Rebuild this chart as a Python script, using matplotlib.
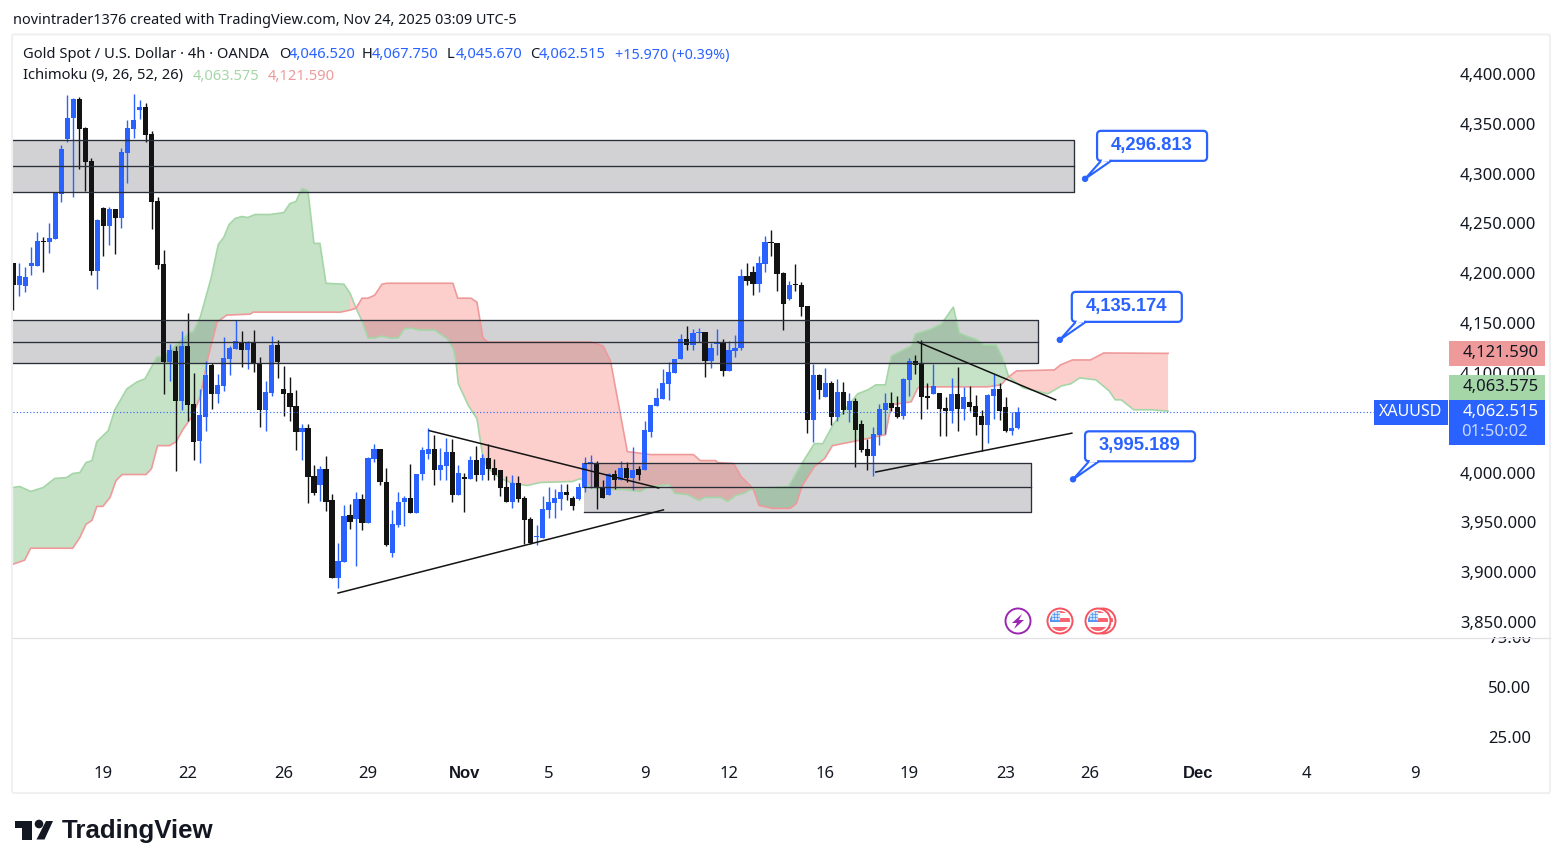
import numpy as np
import matplotlib
matplotlib.use('Agg')
import matplotlib.pyplot as plt
from matplotlib.patches import Rectangle, FancyBboxPatch, Polygon, Circle
from matplotlib.transforms import Affine2D, ScaledTranslation

plt.rcParams['font.family'] = ['Noto Sans', 'DejaVu Sans']

# 4h candles, one bar per row of ten
opens = [4210, 4188, 4187, 4207, 4207, 4232, 4231, 4234, 4280, 4335,
         4356, 4375, 4346, 4313, 4202, 4266, 4247, 4265, 4256, 4321,
         4345, 4364, 4367, 4340, 4273, 4209, 4111, 4122, 4072, 4127,
         4069, 4032, 4056, 4108, 4079, 4087, 4114, 4124, 4131, 4123,
         4131, 4110, 4063, 4080, 4128, 4084, 4080, 4067, 4041, 4045,
         3997, 3987, 4004, 3972, 3894, 3910, 3957, 3953, 3973, 3949,
         4014, 4024, 3990, 3919, 3947, 3970, 3974, 3959, 3999, 4019,
         4024, 4003, 4007, 4021, 3977, 3995, 3994, 4013, 3998, 4015,
         4005, 4003, 3985, 3970, 3989, 3974, 3953, 3935, 3934, 3962,
         3969, 3973, 3980, 3974, 3973, 3984, 4009, 4010, 3984, 3977,
         3999, 3992, 4005, 3995, 4004, 4003, 4041, 4067, 4074, 4089,
         4100, 4114, 4134, 4128, 4140, 4141, 4112, 4129, 4130, 4102,
         4122, 4125, 4197, 4201, 4189, 4209, 4231, 4230, 4200, 4174,
         4189, 4188, 4167, 4053, 4098, 4076, 4090, 4056, 4081, 4063,
         4072, 4049, 4024, 4017, 4038, 4063, 4070, 4066, 4057, 4093,
         4112, 4109, 4077, 4079, 4080, 4065, 4062, 4079, 4064, 4071,
         4067, 4057, 4048, 4077, 4084, 4066, 4042, 4046.52]
highs = [4210, 4210, 4206, 4226, 4241, 4236, 4250, 4281, 4329, 4379,
         4376, 4377, 4347, 4316, 4254, 4267, 4267, 4265, 4326, 4354,
         4380, 4374, 4371, 4343, 4277, 4223, 4129, 4127, 4142, 4160,
         4100, 4084, 4112, 4110, 4099, 4136, 4127, 4153, 4142, 4132,
         4143, 4116, 4092, 4137, 4133, 4107, 4096, 4083, 4049, 4049,
         4008, 4007, 4017, 3978, 3929, 3967, 3968, 3980, 3978, 4016,
         4029, 4024, 4005, 3962, 3980, 3976, 4009, 3999, 4026, 4045,
         4038, 4025, 4035, 4034, 4008, 4000, 4017, 4027, 4019, 4029,
         4014, 4003, 3997, 3998, 3997, 3976, 3955, 3947, 3976, 3985,
         3983, 3988, 3988, 3976, 3989, 4016, 4018, 4012, 3993, 4000,
         4003, 4012, 4011, 4026, 4007, 4052, 4068, 4085, 4104, 4111,
         4114, 4139, 4147, 4144, 4145, 4141, 4130, 4144, 4134, 4132,
         4138, 4204, 4210, 4207, 4217, 4237, 4243, 4230, 4201, 4192,
         4209, 4191, 4167, 4109, 4099, 4105, 4092, 4094, 4091, 4080,
         4075, 4053, 4034, 4046, 4069, 4080, 4081, 4077, 4095, 4115,
         4118, 4133, 4090, 4109, 4080, 4076, 4095, 4106, 4086, 4087,
         4078, 4063, 4079, 4099, 4090, 4076, 4061, 4067.75]
lows = [4163, 4177, 4181, 4198, 4207, 4201, 4220, 4234, 4272, 4332,
        4277, 4305, 4283, 4198, 4184, 4217, 4228, 4219, 4245, 4291,
        4336, 4355, 4332, 4244, 4204, 4079, 4092, 4002, 4063, 4052,
        4013, 4010, 4042, 4064, 4070, 4082, 4098, 4124, 4106, 4104,
        4101, 4046, 4042, 4077, 4095, 4057, 4052, 4023, 4013, 3969,
        3977, 3971, 3961, 3894, 3884, 3910, 3943, 3906, 3942, 3949,
        4011, 3987, 3926, 3915, 3945, 3946, 3959, 3959, 3993, 4014,
        3987, 3992, 3992, 3970, 3977, 3960, 3994, 3991, 3992, 3993,
        3993, 3976, 3970, 3964, 3970, 3928, 3928, 3927, 3934, 3954,
        3954, 3962, 3972, 3962, 3972, 3980, 3984, 3963, 3974, 3977,
        3983, 3992, 3990, 3982, 3992, 4003, 4036, 4067, 4074, 4073,
        4100, 4114, 4123, 4123, 4131, 4096, 4105, 4118, 4097, 4102,
        4116, 4123, 4188, 4178, 4181, 4201, 4217, 4182, 4143, 4173,
        4182, 4157, 4040, 4031, 4074, 4076, 4048, 4052, 4059, 4051,
        4006, 4021, 4003, 3997, 4028, 4039, 4062, 4055, 4054, 4077,
        4099, 4054, 4064, 4079, 4037, 4037, 4050, 4042, 4053, 4062,
        4038, 4022, 4030, 4054, 4053, 4041, 4038, 4045.67]
closes = [4188, 4197, 4196, 4210, 4232, 4231, 4235, 4281, 4325, 4356,
          4375, 4345, 4312, 4202, 4253, 4247, 4265, 4256, 4322, 4346,
          4354, 4367, 4339, 4272, 4208, 4111, 4123, 4072, 4127, 4068,
          4031, 4058, 4098, 4079, 4088, 4115, 4125, 4132, 4123, 4131,
          4110, 4063, 4081, 4128, 4111, 4079, 4066, 4041, 4045, 3996,
          3979, 4004, 3970, 3894, 3911, 3956, 3950, 3973, 3949, 4015,
          4024, 3990, 3927, 3948, 3970, 3974, 3959, 3999, 4023, 4024,
          4003, 4008, 4021, 3977, 4000, 3994, 4013, 3998, 4015, 4004,
          3998, 3984, 3970, 3989, 3973, 3952, 3929, 3936, 3963, 3970,
          3974, 3980, 3977, 3966, 3985, 4010, 4010, 3984, 3974, 3999,
          3992, 4005, 3995, 4003, 3998, 4043, 4068, 4075, 4090, 4101,
          4114, 4134, 4128, 4140, 4141, 4112, 4125, 4130, 4102, 4123,
          4125, 4197, 4192, 4189, 4210, 4231, 4230, 4199, 4169, 4188,
          4188, 4166, 4053, 4098, 4083, 4090, 4056, 4081, 4063, 4072,
          4043, 4023, 4017, 4039, 4064, 4070, 4065, 4056, 4094, 4112,
          4108, 4076, 4075, 4087, 4064, 4062, 4079, 4064, 4076, 4066,
          4056, 4048, 4078, 4084, 4062, 4042, 4045, 4062.515]

# ichimoku span knots (bar number, price)
span_a_x = [0, 1.1, 2.9, 5, 6.9, 8.9, 9.9, 11.1, 12.1, 13.1, 13.9, 15.8, 16.9, 18.9, 20.6, 21.9,
            23.9, 24.9, 29.4, 29.9, 30.7, 31.1, 32.9, 34.1, 35, 35.9, 36.9, 38, 39, 40.2, 42.7,
            43.9, 45, 46, 47, 48, 49, 50, 51, 52, 55, 56, 57, 58, 59, 60.1, 61.3, 62.6, 64, 65, 66,
            67.7, 70.1, 72.2, 73.2, 73.6, 74, 75.7, 77.1, 78, 78.8, 81, 83.1, 85.5, 87.6, 93, 94.3,
            96, 98.8, 101.4, 104.3, 105.4, 109, 110, 112, 114, 115, 117.6, 118.8, 120.1, 121.4, 123,
            128.9, 130.9, 133.2, 134.6, 136.4, 140.4, 142.1, 143.4, 145, 146, 149.3, 150, 152.6,
            154.3, 156.3, 157.3, 158.9, 160, 161.4, 163.4, 164.5, 165.5, 167.9, 172, 174.3, 175.8,
            177.3, 180, 182.2, 183.2, 184.2, 186.3, 189.3, 192]
span_a = [3985, 3986, 3981, 3985, 3994, 3995, 3999, 4000, 4010, 4012, 4031, 4042, 4063, 4084, 4091,
          4094, 4116, 4116, 4141, 4141, 4151, 4156, 4195, 4229, 4236, 4249, 4255, 4257, 4256, 4259,
          4259, 4260, 4261, 4270, 4272, 4285, 4283, 4230, 4230, 4190, 4189, 4180, 4165, 4152, 4135,
          4135, 4137, 4135, 4135, 4144, 4145, 4143, 4143, 4134, 4124, 4112, 4089, 4067, 4054, 4019,
          4005, 3994, 3989, 3987, 3990, 3991, 3994, 3985, 3983, 3983, 3981, 3985, 3988, 3979, 3978,
          3972, 3975, 3975, 3971, 3977, 3979, 3984, 3986, 4007, 4029, 4029, 4049, 4079, 4083, 4088,
          4088, 4117, 4127, 4139, 4144, 4149, 4166, 4140, 4136, 4134, 4128, 4128, 4115, 4096, 4085,
          4079, 4087, 4089, 4095, 4093, 4082, 4073, 4073, 4063, 4063, 4063.575]
span_b_x = [0, 1.9, 2.9, 9.9, 11.1, 12.1, 13.1, 13.9, 14.9, 16.1, 17.1, 18.1, 22.1, 23, 24, 26, 27.1,
            28.2, 29.7, 31.1, 32.4, 33.9, 35.5, 39.4, 39.9, 54.4, 56, 57, 58, 59, 60.1, 61.3, 62.1,
            73.1, 73.9, 76.1, 77.1, 78.1, 78.9, 96.1, 98.1, 99.3, 102.1, 106, 113.1, 114.2, 116.8, 117.1,
            119.8, 121, 123, 124, 126.2, 129.2, 130.2, 131.2, 133.2, 134.9, 136.2, 140.4, 145, 146,
            149.3, 150.4, 151.4, 162, 164.2, 165.5, 166.8, 173.1, 174.1, 176.1, 179.1, 181.3, 192]
span_b = [3908, 3912, 3924, 3924, 3935, 3948, 3952, 3966, 3966, 3975, 3992, 3998, 3998, 4004, 4027,
          4027, 4031, 4043, 4056, 4076, 4116, 4151, 4158, 4159, 4161, 4161, 4163, 4165, 4175, 4175,
          4178, 4189, 4190, 4190, 4175, 4175, 4171, 4135, 4131, 4131, 4127, 4112, 4021, 4018, 4018,
          4012, 4012, 4010, 4009, 3996, 3984, 3967, 3964, 3964, 3969, 3987, 4006, 4014, 4027, 4032,
          4038, 4068, 4071, 4085, 4086, 4086, 4088, 4096, 4102, 4103, 4108, 4113, 4113, 4120, 4121.59]
cloud_cross = [0, 56, 123, 165.5, 192]
cloud_green = [True, False, True, False]

# drawn zones: first bar, last bar, top, middle, bottom
zone_x0 = [0, 0, 94.9]
zone_x1 = [176.3, 170.4, 169.2]
zone_top = [4334, 4153, 4009.5]
zone_mid = [4308, 4131, 3985]
zone_bot = [4282, 4110, 3960]

# trend lines
trend_x0 = [69.2, 54, 150.4, 143.4]
trend_y0 = [4042, 3879, 4131, 4000.5]
trend_x1 = [107.3, 108.1, 173.3, 176]
trend_y1 = [3984.5, 3962.5, 4073, 4039.5]

target_x = [178.2, 174, 176.2]
target_y = [4296.813, 4135.174, 3995.189]

price_ticks = [4400, 4350, 4300, 4250, 4200, 4150, 4100, 4000, 3950, 3900, 3850]
rsi_ticks = [75, 50, 25]
date_pos = [15, 29, 45, 59, 75, 89, 105, 119, 135, 149, 165, 179, 197, 215, 233]
date_labels = ['19', '22', '26', '29', 'Nov', '5', '9', '12', '16', '19', '23', '26', 'Dec', '4', '9']

BLUE = '#2962ff'
BLACK = '#131313'
INK = '#2a2e39'
W, H = 1563, 868
BAR = 6.015
X0 = 13.2
# the series above were read against the tick labels, which sit 2 units high of the
# real scale; the values printed on the chart (last bar, last span points) are exact
READ_SHIFT = 2.0

fig = plt.figure(figsize=(W / 100, H / 100), dpi=100, facecolor='white')
# top-left pixel coordinates for the chrome around the chart
px = Affine2D().scale(1, -1).translate(0, H)


def pane(top, bottom):
    return [13 / W, (H - bottom) / H, 1435 / W, (bottom - top) / H]


ax_rsi = fig.add_axes(pane(637, 793), zorder=1)
ax = fig.add_axes(pane(35, 637), zorder=2)
ax.set_xlim((13 - X0) / BAR, (1448 - X0) / BAR)
ax_rsi.set_xlim(ax.get_xlim())
ax.set_ylim(3836.9, 4441.2)
ax_rsi.set_ylim(-3, 75)

for a in (ax, ax_rsi):
    for s in a.spines.values():
        s.set_visible(False)
    a.yaxis.tick_right()

ax.set_xticks([])
ax.set_yticks(price_ticks)
ax.set_yticklabels([f'{v:,.3f}' for v in price_ticks])
ax.tick_params(axis='y', length=0, pad=8.6, labelsize=12, labelcolor='#131722')
lift = ScaledTranslation(0, 2 / 100, fig.dpi_scale_trans)
for lab in ax.get_yticklabels():
    lab.set_transform(lab.get_transform() + lift)
ax_rsi.set_yticks(rsi_ticks)
ax_rsi.set_yticklabels([f'{v:.2f}' for v in rsi_ticks])
ax_rsi.tick_params(axis='y', length=0, pad=28.8, labelsize=12, labelcolor='#131722')
ax_rsi.set_xticks(date_pos)
ax_rsi.set_xticklabels(date_labels)
ax_rsi.tick_params(axis='x', length=0, pad=-19.4, labelsize=12, labelcolor='#131722')
for lab in ax_rsi.get_xticklabels():
    if lab.get_text() in ('Nov', 'Dec'):
        lab.set_family('Liberation Sans')
        lab.set_fontweight('bold')

# hide the top half of the 75.00 label behind the price pane
ax.add_patch(Rectangle((1, 0), 0.07, 0.1, transform=ax.transAxes, facecolor='white',
                       edgecolor='none', clip_on=False, zorder=-1))

# zones under the cloud and candles
for x0, x1, t, m, b in zip(zone_x0, zone_x1, zone_top, zone_mid, zone_bot):
    t, m, b = t + READ_SHIFT, m + READ_SHIFT, b + READ_SHIFT
    ax.add_patch(Rectangle((x0, b), x1 - x0, t - b, facecolor='#d2d2d5', edgecolor='none', zorder=1))
    ax.plot([x0, x1, x1, x0], [t, t, b, b], color=INK, lw=0.95, zorder=4)
    ax.plot([x0, x1], [m, m], color=INK, lw=0.95, zorder=4)

# cloud
a_x, a_y = np.array(span_a_x), np.array(span_a, dtype=float)
b_x, b_y = np.array(span_b_x), np.array(span_b, dtype=float)
a_y[:-1] += READ_SHIFT
b_y[:-1] += READ_SHIFT
for c0, c1, green in zip(cloud_cross[:-1], cloud_cross[1:], cloud_green):
    am = (a_x >= c0) & (a_x <= c1)
    bm = (b_x >= c0) & (b_x <= c1)
    xs = np.r_[a_x[am], b_x[bm][::-1]]
    ys = np.r_[a_y[am], b_y[bm][::-1]]
    col = '#43a047' if green else '#f44336'
    al = 0.3 if green else 0.25
    ax.fill(xs, ys, color=col, alpha=al, lw=0, zorder=2)
ax.plot(a_x, a_y, color='#a5d6a7', lw=1.2, zorder=2.5)
ax.plot(b_x, b_y, color='#ef9a9a', lw=1.2, zorder=2.5)

# candles
o, h, l, c = [np.array(v, dtype=float) for v in (opens, highs, lows, closes)]
for v in (o, h, l, c):
    v[:-1] += READ_SHIFT
idx = np.arange(len(o))
cols = [BLUE if cc >= oo else BLACK for oo, cc in zip(o, c)]
ax.vlines(idx, l, h, colors=cols, lw=1.0, zorder=3)
ax.bar(idx, np.maximum(np.abs(c - o), 1.5), bottom=np.minimum(o, c), width=0.87, color=cols, lw=0, zorder=3)

for x0, y0, x1, y1 in zip(trend_x0, trend_y0, trend_x1, trend_y1):
    ax.plot([x0, x1], [y0 + READ_SHIFT, y1 + READ_SHIFT], color=BLACK, lw=1.1, zorder=4)

ax.axhline(closes[-1], color=BLUE, lw=0.8, ls=(0, (1, 2)), zorder=5)

fig.canvas.draw()


def callout(xv, yv):
    ax_px = ax.transData.transform((xv, yv))
    dx, dy = ax_px[0], H - ax_px[1]
    fig.add_artist(FancyBboxPatch((dx + 12, dy - 48), 110, 30, boxstyle='round,pad=0,rounding_size=4',
                                  transform=px, facecolor='white', edgecolor=BLUE, lw=1.6, zorder=3))
    fig.add_artist(Polygon([(dx, dy), (dx + 16, dy - 18), (dx + 26, dy - 18)], closed=True, transform=px,
                           facecolor='white', edgecolor=BLUE, lw=1.5, zorder=3))
    fig.add_artist(Polygon([(dx + 17.5, dy - 20), (dx + 24.5, dy - 20), (dx + 24, dy - 17.4), (dx + 16, dy - 16.8)],
                           closed=True, transform=px, facecolor='white', edgecolor='none', zorder=3))
    fig.add_artist(Circle((dx, dy), 2.5, transform=px, color=BLUE, zorder=4))
    fig.text(dx + 67, dy - 33.5, f'{yv:,.3f}', transform=px, color=BLUE, fontsize=13.2, family='Liberation Sans',
             fontweight='bold', ha='center', va='center', zorder=5)


for xv, yv in zip(target_x, target_y):
    callout(xv, yv)


def label(x, y, s, color='#131722', size=10.6, **kw):
    fig.text(x, y, s, transform=px, color=color, fontsize=size, va='center', zorder=6, **kw)


def tag(x0, y0, x1, y1, color):
    fig.add_artist(Rectangle((x0, y0), x1 - x0, y1 - y0, transform=px, facecolor=color, edgecolor='none', zorder=5))


# frame and pane separator
fig.add_artist(FancyBboxPatch((12, 34.5), 1538, 758.5, boxstyle='round,pad=0,rounding_size=2', transform=px,
                              facecolor='none', edgecolor='#f0f0f2', lw=1.5, zorder=3))
fig.add_artist(plt.Line2D([13, 1550], [637.5, 637.5], transform=px, color='#e2e2e6', lw=0.9, zorder=3))

label(13, 20.5, 'novintrader1376 created with TradingView.com, Nov 24, 2025 03:09 UTC-5', size=10.4)
label(23, 55, 'Gold Spot / U.S. Dollar · 4h · OANDA')
for x, s in zip([279, 362, 447, 530], ['O', 'H', 'L', 'C']):
    label(x, 55, s)
for x, s in zip([289, 372, 456, 539], ['4,046.520', '4,067.750', '4,045.670', '4,062.515']):
    label(x, 55, s, color=BLUE)
label(615, 55, '+15.970 (+0.39%)', color=BLUE, size=10.3)
label(23, 76, 'Ichimoku (9, 26, 52, 26)')
label(193, 76, '4,063.575', color='#a5d6a7')
label(268, 76, '4,121.590', color='#ef9a9a')

# price tags on the right
tag(1449, 341, 1545, 366, '#ef9a9a')
label(1539, 353, '4,121.590', size=12, ha='right')
tag(1449, 375, 1545, 400, '#a5d6a7')
label(1539, 387, '4,063.575', size=12, ha='right')
tag(1449, 400, 1545, 445, BLUE)
label(1539, 412, '4,062.515', color='white', size=12, ha='right')
label(1461, 432, '01:50:02', color='#c9d8ff', size=12)
tag(1374, 400, 1448, 425, BLUE)
label(1411, 412, 'XAUUSD', color='white', size=11.5, ha='center')

# event markers
fig.add_artist(Circle((1018, 621), 12.5, transform=px, facecolor='white', edgecolor='#9c27b0', lw=1.4, zorder=4))
fig.add_artist(Polygon([(1022, 614), (1012, 623), (1017, 623), (1014, 629), (1024, 620), (1019, 620)],
                       closed=True, transform=px, facecolor='#9c27b0', edgecolor='none', zorder=4))
for cx in (1060, 1103, 1098):
    fig.add_artist(Circle((cx, 621), 12.5, transform=px, facecolor='white', edgecolor='#f7525f', lw=1.4, zorder=4))
    disc = Circle((cx, 621), 10, transform=px)
    for y0, y1 in [(618, 622), (627, 632), (610, 613)]:
        st = Rectangle((cx - 12, y0), 24, y1 - y0, transform=px, facecolor='#f7636e', edgecolor='none', zorder=4)
        fig.add_artist(st)
        st.set_clip_path(disc)
    can = Rectangle((cx - 12, 609), 12, 13, transform=px, facecolor='#4b95f5', edgecolor='none', zorder=4)
    fig.add_artist(can)
    can.set_clip_path(disc)
    for dot_x in (-7, -4, -1):
        for dot_y in (613, 616, 619):
            fig.add_artist(Circle((cx + dot_x, dot_y), 0.6, transform=px, color='#cfe3fc', zorder=4))

# logo
fig.add_artist(Polygon([(15, 821), (32, 821), (32, 839.5), (22, 839.5), (22, 827.5), (15, 827.5)], closed=True,
                       transform=px, facecolor='#131722', edgecolor='none', zorder=4))
fig.add_artist(Circle((39, 824), 3.6, transform=px, color='#131722', zorder=4))
fig.add_artist(Polygon([(46, 821), (53, 821), (44.5, 839.5), (36.5, 839.5)], closed=True, transform=px,
                       facecolor='#131722', edgecolor='none', zorder=4))
fig.text(61.5, 831, 'TradingView', transform=px, color='#131722', fontsize=18.6, family='Liberation Sans',
         fontweight='bold', va='center', zorder=4)

fig.savefig('out.png', dpi=100, facecolor='white')
